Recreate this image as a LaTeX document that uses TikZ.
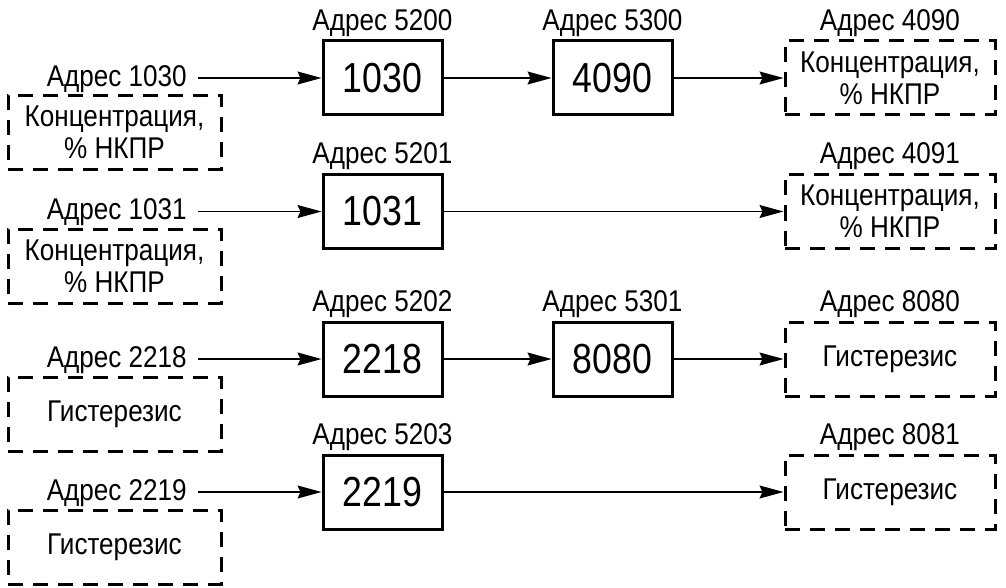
\documentclass[tikz,border=0pt]{standalone}
\usepackage{fontspec}
\usetikzlibrary{arrows.meta}
\newfontfamily\lblfont[FakeStretch=0.87]{Liberation Sans}
\newfontfamily\numfont[FakeStretch=0.85]{Liberation Sans}

\tikzset{
  lbl/.style={font=\lblfont\fontsize{30}{33}\selectfont, inner sep=0pt},
  regbox/.style={draw, line width=3pt, minimum width=119pt, minimum height=74pt,
    inner sep=0pt, font=\numfont\fontsize{42}{42}\selectfont},
  valbox/.style={draw, line width=3pt, dash pattern=on 15pt off 10pt,
    minimum height=74pt, inner sep=0pt, align=center,
    font=\lblfont\fontsize{30}{32}\selectfont},
  conn/.style={line width=1.1pt, -{Stealth[length=24pt,width=13pt,inset=3pt]}},
}

\begin{document}
\begin{tikzpicture}[x=1pt,y=-1pt]
\useasboundingbox (0,0) rectangle (1006,588);

% source registers (left column)
\node[valbox, minimum width=213pt] (v1) at (114.5,132.5) {Концентрация,\\\% НКПР};
\node[valbox, minimum width=213pt] (v2) at (114.5,266)   {Концентрация,\\\% НКПР};
\node[valbox, minimum width=213pt] (v3) at (114.5,414)   {Гистерезис};
\node[valbox, minimum width=213pt] (v4) at (114.5,547)   {Гистерезис};

\node[lbl, anchor=base east] (la1) at (187,86.5)  {Адрес 1030};
\node[lbl, anchor=base east] (la2) at (187,219) {Адрес 1031};
\node[lbl, anchor=base east] (la3) at (187,367) {Адрес 2218};
\node[lbl, anchor=base east] (la4) at (187,500) {Адрес 2219};

% mapping registers
\node[regbox] (b1) at (382.5,78)    {1030};
\node[regbox] (b2) at (382.5,211.5) {1031};
\node[regbox] (b3) at (382.5,359)   {2218};
\node[regbox] (b4) at (382.5,492)   {2219};
\node[regbox] (c1) at (612.5,78)    {4090};
\node[regbox] (c3) at (612.5,359)   {8080};

\node[lbl, anchor=base] (lb1) at ([yshift=9pt]b1.north) {Адрес 5200};
\node[lbl, anchor=base] (lb2) at ([yshift=9pt]b2.north) {Адрес 5201};
\node[lbl, anchor=base] (lb3) at ([yshift=9pt]b3.north) {Адрес 5202};
\node[lbl, anchor=base] (lb4) at ([yshift=9pt]b4.north) {Адрес 5203};
\node[lbl, anchor=base] (lc1) at ([yshift=9pt]c1.north) {Адрес 5300};
\node[lbl, anchor=base] (lc3) at ([yshift=9pt]c3.north) {Адрес 5301};

% target registers (right column)
\node[valbox, minimum width=210pt] (t1) at (890,78)    {Концентрация,\\\% НКПР};
\node[valbox, minimum width=210pt] (t2) at (890,211.5) {Концентрация,\\\% НКПР};
\node[valbox, minimum width=210pt] (t3) at (890,359)   {Гистерезис};
\node[valbox, minimum width=210pt] (t4) at (890,492)   {Гистерезис};

\node[lbl, anchor=base] (lt1) at ([yshift=9pt]t1.north) {Адрес 4090};
\node[lbl, anchor=base] (lt2) at ([yshift=9pt]t2.north) {Адрес 4091};
\node[lbl, anchor=base] (lt3) at ([yshift=9pt]t3.north) {Адрес 8080};
\node[lbl, anchor=base] (lt4) at ([yshift=9pt]t4.north) {Адрес 8081};

% arrow start points just after the source labels
\path (la1.east) ++(11,0) coordinate (s1);
\path (la2.east) ++(11,0) coordinate (s2);
\path (la3.east) ++(11,0) coordinate (s3);
\path (la4.east) ++(11,0) coordinate (s4);

% connectors
\draw[conn] (s1 |- b1.west) -- (b1.west);
\draw[conn] (s2 |- b2.west) -- (b2.west);
\draw[conn] (s3 |- b3.west) -- (b3.west);
\draw[conn] (s4 |- b4.west) -- (b4.west);

\draw[conn] (b1.east) -- (c1.west);
\draw[conn] (c1.east) -- (t1.west);
\draw[conn] (b2.east) -- (t2.west);
\draw[conn] (b3.east) -- (c3.west);
\draw[conn] (c3.east) -- (t3.west);
\draw[conn] (b4.east) -- (t4.west);
\end{tikzpicture}
\end{document}
